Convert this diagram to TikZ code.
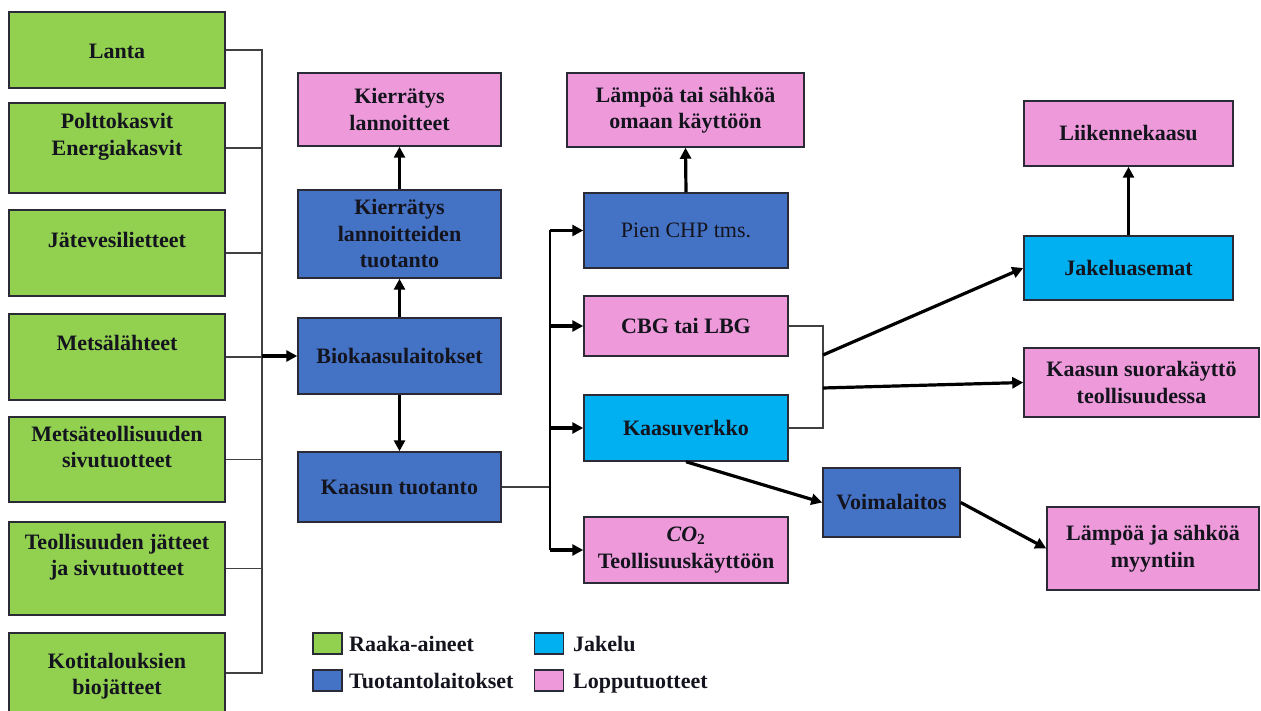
\documentclass[tikz,border=0pt]{standalone}
\usepackage{fontspec}
\setmainfont{Liberation Serif}
\usetikzlibrary{arrows.meta}
\definecolor{cgreen}{HTML}{92D050}
\definecolor{cblue}{HTML}{4472C4}
\definecolor{ccyan}{HTML}{00B0F0}
\definecolor{cpink}{HTML}{EE9ADA}
\definecolor{cbord}{HTML}{2B2B38}
\definecolor{ctext}{HTML}{14141E}
\newcommand{\dfont}{\fontsize{22}{26.5}\selectfont}
\begin{document}
\begin{tikzpicture}[x=1pt,y=-1pt,
  box/.style={draw=cbord,line width=1.5pt,inner sep=0pt,align=center,text=ctext,
    font=\dfont\bfseries},
  gbox/.style={box,fill=cgreen,minimum width=216pt},
  bbox/.style={box,fill=cblue},
  cbox/.style={box,fill=ccyan},
  pbox/.style={box,fill=cpink},
  gtext/.style={inner sep=0pt,align=center,text=ctext,font=\dfont\bfseries},
  legsq/.style={draw=cbord,line width=1.5pt,minimum width=29pt,minimum height=21pt,inner sep=0pt},
  legtx/.style={anchor=base west,inner sep=0pt,text=ctext,font=\dfont\bfseries},
  thinline/.style={draw=black!75,line width=1.3pt},
  thickarrow/.style={draw=black,line width=3.2pt,-{Triangle[length=11pt,width=11pt]}}
]
\useasboundingbox[fill=white] (0,0) rectangle (1261,711);

% raw materials (green)
\node[gbox,minimum height=76pt] (lanta) at (117,50) {};
\node[gbox,minimum height=90pt] (polt) at (117,148) {};
\node[gbox,minimum height=86pt] (jate) at (117,253) {};
\node[gbox,minimum height=86pt] (metsa) at (117,357) {};
\node[gbox,minimum height=85pt] (metsat) at (117,459.5) {};
\node[gbox,minimum height=93pt] (teoll) at (117,568.5) {};
\node[gbox,minimum height=80pt] (koti) at (117,673) {};

\node[gtext] (tlanta) at (117,51) {Lanta};
\node[gtext] (tpolt) at (117,137) {Polttokasvit\\Energiakasvit};
\node[gtext] (tjate) at (117,240) {Jätevesilietteet};
\node[gtext] (tmetsa) at (117,343) {Metsälähteet};
\node[gtext] (tmetsat) at (117,447) {Metsäteollisuuden\\sivutuotteet};
\node[gtext] (tteoll) at (117,557) {Teollisuuden jätteet\\ja sivutuotteet};
\node[gtext] (tkoti) at (117,676) {Kotitalouksien\\biojätteet};

% middle column
\node[pbox,minimum width=203pt,minimum height=73pt] (kl) at (399.5,109.5) {Kierrätys\\lannoitteet};
\node[bbox,minimum width=203pt,minimum height=88pt] (klt) at (399.5,234) {Kierrätys\\lannoitteiden\\tuotanto};
\node[bbox,minimum width=203pt,minimum height=76pt] (bio) at (399.5,356) {Biokaasulaitokset};
\node[bbox,minimum width=203pt,minimum height=70pt] (kt) at (399.5,487) {Kaasun tuotanto};

% right column 1
\node[pbox,minimum width=237pt,minimum height=74pt] (lamp) at (685.5,110) {Lämpöä tai sähköä\\omaan käyttöön};
\node[bbox,minimum width=204pt,minimum height=75pt,font=\dfont\mdseries] (chp) at (686,230.5) {Pien CHP tms.};
\node[pbox,minimum width=204pt,minimum height=60pt] (cbg) at (686,326) {CBG tai LBG};
\node[cbox,minimum width=204pt,minimum height=66pt] (kv) at (686,428) {Kaasuverkko};
\node[pbox,minimum width=204pt,minimum height=66pt] (co2) at (686,550) {\textit{CO}\textsubscript{2}\\Teollisuuskäyttöön};

% right column 2
\node[pbox,minimum width=209pt,minimum height=65pt] (liik) at (1128.5,133.5) {Liikennekaasu};
\node[cbox,minimum width=209pt,minimum height=64pt] (jak) at (1128.5,268) {Jakeluasemat};
\node[pbox,minimum width=235pt,minimum height=69pt] (suora) at (1141.5,382.5) {Kaasun suorakäyttö\\teollisuudessa};
\node[bbox,minimum width=137pt,minimum height=69pt] (voim) at (891.5,502.5) {Voimalaitos};
\node[pbox,minimum width=212pt,minimum height=83pt] (lamsel) at (1153,548.5) {Lämpöä ja sähköä\\myyntiin};

% helper coordinates
\coordinate (bus) at (262,0);
\coordinate (bus2) at (550,0);
\coordinate (brk) at (823,0);
\coordinate (a1) at (823,355);
\coordinate (a2) at (823,388);

% raw material bus
\draw[thinline] (lanta.east) -- (lanta.east -| bus) -- (koti.east -| bus) -- (koti.east);
\draw[thinline] (polt.east) -- (polt.east -| bus);
\draw[thinline] (jate.east) -- (jate.east -| bus);
\draw[thinline] (metsa.east) -- (metsa.east -| bus);
\draw[thinline] (metsat.east) -- (metsat.east -| bus);
\draw[thinline] (teoll.east) -- (teoll.east -| bus);
\draw[thickarrow] (bus |- bio.west) -- (bio.west);

% middle arrows
\draw[thickarrow] (bio.north) -- (klt.south);
\draw[thickarrow] (klt.north) -- (kl.south);
\draw[thickarrow] (bio.south) -- (kt.north);

% production bus
\draw[thinline] (kt.east) -- (kt.east -| bus2);
\draw[draw=black,line width=2.2pt] (bus2 |- chp.west) -- (bus2 |- co2.west);
\draw[thickarrow] (bus2 |- chp.west) -- (chp.west);
\draw[thickarrow] (bus2 |- cbg.west) -- (cbg.west);
\draw[thickarrow] (bus2 |- kv.west) -- (kv.west);
\draw[thickarrow] (bus2 |- co2.west) -- (co2.west);
\draw[thickarrow] (chp.north) -- (lamp.south);

% bracket
\draw[thinline] (cbg.east) -- (cbg.east -| brk) -- (kv.east -| brk) -- (kv.east);
\draw[thickarrow] (a1) -- (jak.west);
\draw[thickarrow] (a2) -- (suora.west);
\draw[thickarrow] (jak.north) -- (liik.south);
\draw[thickarrow] (kv.south) -- (voim.west);
\draw[thickarrow] (voim.east) -- (lamsel.west);

% legend
\node[legsq,fill=cgreen] (lg1) at (327.5,643.5) {};
\node[legtx] (lt1) at (349,651.5) {Raaka-aineet};
\node[legsq,fill=cblue] (lg2) at (327.5,680.5) {};
\node[legtx] (lt2) at (349,688.5) {Tuotantolaitokset};
\node[legsq,fill=ccyan] (lg3) at (549,643.5) {};
\node[legtx] (lt3) at (573,651.5) {Jakelu};
\node[legsq,fill=cpink] (lg4) at (549,680.5) {};
\node[legtx] (lt4) at (573,688.5) {Lopputuotteet};
\end{tikzpicture}
\end{document}
